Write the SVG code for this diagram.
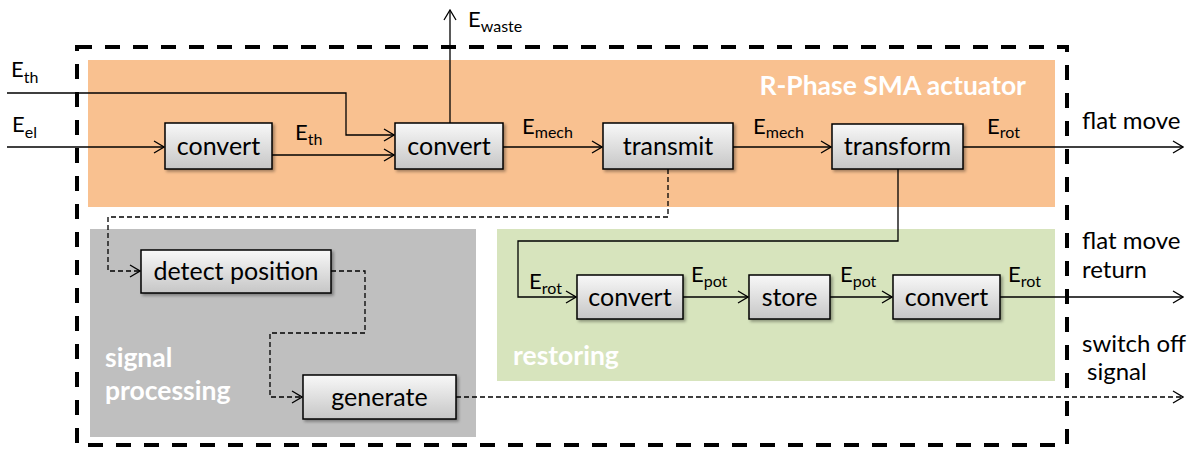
<svg xmlns="http://www.w3.org/2000/svg" width="1192" height="450" viewBox="0 0 1192 450">
  <style>
    text { font-family: Lato, "Open Sans", "Liberation Sans", sans-serif; fill: #000; }
    .lbl { font-size: 25px; text-anchor: middle; }
    .e { font-size: 22px; }
    .sub { font-size: 16px; }
    .out { font-size: 24px; }
    .zone { font-size: 26.5px; font-weight: bold; fill: #fff; }
    .box { fill: url(#boxGrad); stroke: #000; stroke-width: 1.5; filter: url(#shadow); }
    .flow { fill: none; stroke: #000; stroke-width: 1.3; }
    .sig { fill: none; stroke: #000; stroke-width: 1.3; stroke-dasharray: 5 3; }
  </style>
  <defs>
    <linearGradient id="boxGrad" x1="0" y1="0" x2="0" y2="1">
      <stop offset="0" stop-color="#f8f8f8"/>
      <stop offset="1" stop-color="#c6c6c6"/>
    </linearGradient>
    <filter id="shadow" x="-10%" y="-10%" width="130%" height="140%">
      <feDropShadow dx="2" dy="2" stdDeviation="1.5" flood-color="#000" flood-opacity="0.35"/>
    </filter>
    <marker id="arr" viewBox="0 0 12 14" refX="11" refY="7" markerWidth="12" markerHeight="14" markerUnits="userSpaceOnUse" orient="auto">
      <path d="M1,1 L11,7 L1,13" fill="none" stroke="#000" stroke-width="1.3"/>
    </marker>
  </defs>

  <!-- functional zones -->
  <g id="zones">
    <rect x="88" y="60" width="967" height="147" fill="#f9c190"/>
    <rect x="90" y="229" width="386" height="208" fill="#bfbfbf"/>
    <rect x="497" y="229" width="558" height="152" fill="#d7e4bd"/>
    <text class="zone" x="1026" y="95" text-anchor="end">R-Phase SMA actuator</text>
    <text class="zone" x="105" y="367">signal</text>
    <text class="zone" x="105" y="400">processing</text>
    <text class="zone" x="513" y="365">restoring</text>
  </g>

  <!-- system boundary -->
  <rect id="boundary" x="77" y="47" width="990" height="398" fill="none" stroke="#000" stroke-width="4" stroke-dasharray="15 13"/>

  <!-- connectors -->
  <g id="connectors">
    <path class="flow" d="M7,93 H346 V135 H394" marker-end="url(#arr)"/>
    <path class="flow" d="M7,147 H164" marker-end="url(#arr)"/>
    <path class="flow" d="M272,155 H394" marker-end="url(#arr)"/>
    <path class="flow" d="M450,123 V10" marker-end="url(#arr)"/>
    <path class="flow" d="M503,147 H602" marker-end="url(#arr)"/>
    <path class="flow" d="M733,147 H831" marker-end="url(#arr)"/>
    <path class="flow" d="M963,147 H1183" marker-end="url(#arr)"/>
    <path class="flow" d="M898,169 V241 H518 V297 H576" marker-end="url(#arr)"/>
    <path class="flow" d="M683,297 H748" marker-end="url(#arr)"/>
    <path class="flow" d="M830,297 H892" marker-end="url(#arr)"/>
    <path class="flow" d="M1000,297 H1183" marker-end="url(#arr)"/>
    <path class="sig" d="M668,169 V217 H108 V271 H140" marker-end="url(#arr)"/>
    <path class="sig" d="M331,271 H365 V333 H270 V397 H302" marker-end="url(#arr)"/>
    <path class="sig" d="M456,397 H1183" marker-end="url(#arr)"/>
  </g>

  <!-- flow labels -->
  <g id="flow-labels">
    <text class="e" x="11" y="77">E<tspan class="sub" dy="6">th</tspan></text>
    <text class="e" x="12" y="132">E<tspan class="sub" dy="6">el</tspan></text>
    <text class="e" x="295" y="140">E<tspan class="sub" dy="5">th</tspan></text>
    <text class="e" x="468" y="27">E<tspan class="sub" dy="5">waste</tspan></text>
    <text class="e" x="522" y="134">E<tspan class="sub" dy="4">mech</tspan></text>
    <text class="e" x="753" y="134">E<tspan class="sub" dy="4">mech</tspan></text>
    <text class="e" x="987" y="134">E<tspan class="sub" dy="4">rot</tspan></text>
    <text class="e" x="529" y="289">E<tspan class="sub" dy="5">rot</tspan></text>
    <text class="e" x="691" y="282">E<tspan class="sub" dy="5">pot</tspan></text>
    <text class="e" x="840" y="282">E<tspan class="sub" dy="5">pot</tspan></text>
    <text class="e" x="1008" y="282">E<tspan class="sub" dy="5">rot</tspan></text>
    <text class="out" x="1082" y="129">flat move</text>
    <text class="out" x="1082" y="249">flat move</text>
    <text class="out" x="1082" y="278">return</text>
    <text class="out" x="1082" y="352">switch off</text>
    <text class="out" x="1087" y="380">signal</text>
  </g>

  <!-- function blocks -->
  <g id="convert-heat">
    <rect class="box" x="165" y="123" width="107" height="46"/>
    <text class="lbl" x="218.5" y="155">convert</text>
  </g>
  <g id="convert-mech">
    <rect class="box" x="395" y="123" width="108" height="46"/>
    <text class="lbl" x="449" y="155">convert</text>
  </g>
  <g id="transmit">
    <rect class="box" x="603" y="123" width="130" height="46"/>
    <text class="lbl" x="668" y="155">transmit</text>
  </g>
  <g id="transform">
    <rect class="box" x="832" y="124" width="131" height="45"/>
    <text class="lbl" x="897.5" y="155">transform</text>
  </g>
  <g id="detect-position">
    <rect class="box" x="141" y="250" width="190" height="43"/>
    <text class="lbl" x="236" y="280">detect position</text>
  </g>
  <g id="generate">
    <rect class="box" x="303" y="375" width="153" height="44"/>
    <text class="lbl" x="379.5" y="406">generate</text>
  </g>
  <g id="convert-pot">
    <rect class="box" x="577" y="275" width="106" height="44"/>
    <text class="lbl" x="630" y="306">convert</text>
  </g>
  <g id="store">
    <rect class="box" x="749" y="275" width="81" height="44"/>
    <text class="lbl" x="789.5" y="306">store</text>
  </g>
  <g id="convert-rot">
    <rect class="box" x="893" y="275" width="107" height="44"/>
    <text class="lbl" x="946.5" y="306">convert</text>
  </g>
</svg>
